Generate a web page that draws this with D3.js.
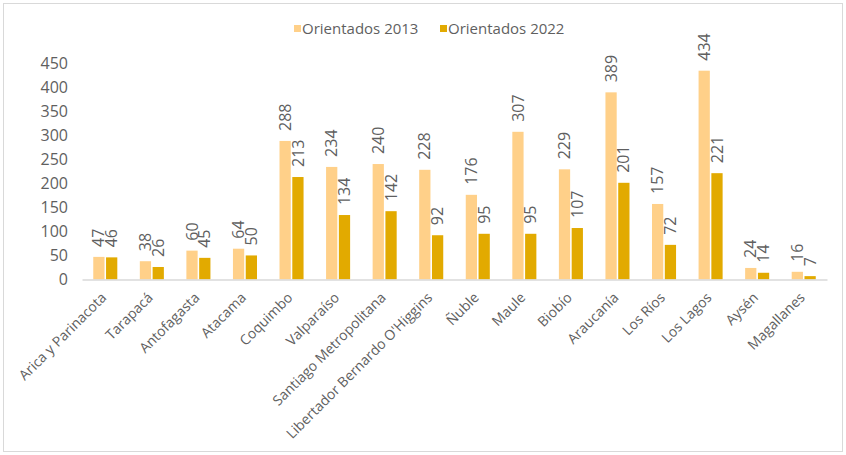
<!DOCTYPE html>
<html><head><meta charset="utf-8">
<script src="https://cdn.jsdelivr.net/npm/d3@7"></script>
<style>body{margin:0;background:#fff}svg{display:block}text{font-family:"Open Sans",sans-serif;fill:#5f5f5f}</style>
</head><body><svg id="c" width="846" height="455"></svg>
<script>
const categories = ["Arica y Parinacota","Tarapacá","Antofagasta","Atacama","Coquimbo","Valparaíso","Santiago Metropolitana","Libertador Bernardo O'Higgins","Ñuble","Maule","Biobío","Araucanía","Los Ríos","Los Lagos","Aysén","Magallanes"];
const seriesNames = ["Orientados 2013","Orientados 2022"];
const values2013 = [47,38,60,64,288,234,240,228,176,307,229,389,157,434,24,16];
const values2022 = [46,26,45,50,213,134,142,92,95,95,107,201,72,221,14,7];
const yTicks = [0,50,100,150,200,250,300,350,400,450];
const colors = ["#FFD089","#E2AA00"];

const svg = d3.select("#c");
svg.append("rect").attr("x",3.5).attr("y",3.5).attr("width",839).attr("height",448)
  .attr("fill","#fff").attr("stroke","#d9d9d9").attr("stroke-width",1);

const x = d3.scaleBand().domain(categories).range([82,827]).paddingInner(0).paddingOuter(0);
const x1 = d3.scaleBand().domain(seriesNames).range([0,x.bandwidth()]).paddingInner(0.12).paddingOuter(0.88);
const y = d3.scaleLinear().domain([0,450]).range([279.5,63]);

const yAxis = d3.axisLeft(y).tickValues(yTicks).tickSize(0).tickPadding(0);
const gy = svg.append("g").attr("transform","translate(68,0)").call(yAxis);
gy.select(".domain").remove();
gy.selectAll("text").attr("font-size",16).attr("fill","#5f5f5f").style("font-family","'Open Sans',sans-serif");

const data = [values2013, values2022];
seriesNames.forEach((s,i)=>{
  const g = svg.append("g");
  g.selectAll("rect").data(categories).join("rect")
    .attr("x",c=>x(c)+x1(s)).attr("width",x1.bandwidth())
    .attr("y",(c,j)=>y(data[i][j])).attr("height",(c,j)=>y(0)-y(data[i][j]))
    .attr("fill",colors[i]);
  g.selectAll("text").data(categories).join("text")
    .attr("transform",(c,j)=>`translate(${x(c)+x1(s)+x1.bandwidth()/2},${y(data[i][j])-10}) rotate(-90)`)
    .attr("dy","0.35em").attr("font-size",16).text((c,j)=>data[i][j]);
});

const xAxis = d3.axisBottom(x).tickSize(0).tickPadding(0);
const gx = svg.append("g").attr("transform",`translate(0,${y(0)})`).call(xAxis);
gx.select(".domain").attr("stroke","#d9d9d9").attr("stroke-width",1.5);
gx.selectAll(".tick text").attr("font-size",14).attr("fill","#5f5f5f")
  .style("font-family","'Open Sans',sans-serif")
  .attr("text-anchor","end").attr("dy",0)
  .attr("transform","translate(2,19) rotate(-45)");

const leg = svg.append("g");
const lx = [294,440];
seriesNames.forEach((s,i)=>{
  leg.append("rect").attr("x",lx[i]).attr("y",25).attr("width",7).attr("height",7).attr("fill",colors[i]);
  leg.append("text").attr("x",lx[i]+8).attr("y",29).attr("dy","0.35em").attr("font-size",15).text(s);
});
</script></body></html>
